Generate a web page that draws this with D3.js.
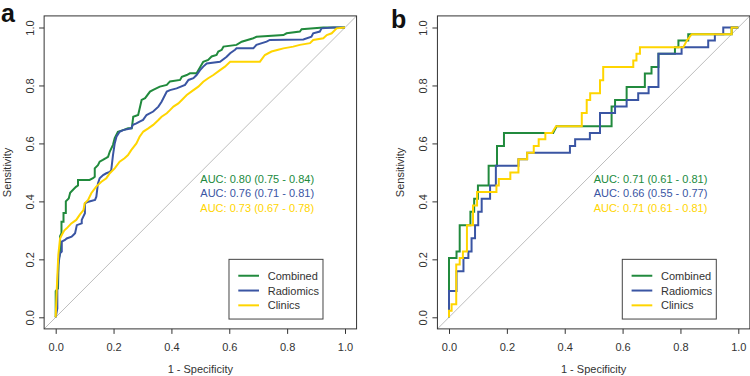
<!DOCTYPE html>
<html><head><meta charset="utf-8">
<script src="https://cdn.jsdelivr.net/npm/d3@7"></script>
<style>body{margin:0;background:#fff}svg{display:block}text{font-family:"Liberation Sans",Arial,sans-serif}</style>
</head><body>
<svg id="c" width="750" height="376"></svg>
<script>
// ---- data: [1 - specificity, sensitivity] vertices of each ROC curve ----
const aCombined = [[0,0],[0,0.09],[0.008,0.1],[0.01,0.2],[0.015,0.22],[0.015,0.28],[0.02,0.29],[0.02,0.33],[0.027,0.33],[0.027,0.36],[0.035,0.36],[0.035,0.40],[0.045,0.41],[0.05,0.43],[0.06,0.44],[0.07,0.45],[0.077,0.455],[0.077,0.474],[0.117,0.474],[0.129,0.48],[0.135,0.485],[0.135,0.514],[0.146,0.525],[0.152,0.537],[0.163,0.543],[0.175,0.55],[0.181,0.554],[0.187,0.572],[0.198,0.595],[0.204,0.618],[0.215,0.64],[0.233,0.646],[0.25,0.652],[0.263,0.652],[0.268,0.692],[0.285,0.698],[0.297,0.75],[0.309,0.756],[0.326,0.779],[0.337,0.785],[0.36,0.796],[0.384,0.802],[0.395,0.814],[0.43,0.819],[0.436,0.83],[0.453,0.836],[0.464,0.842],[0.487,0.842],[0.51,0.882],[0.527,0.888],[0.539,0.9],[0.556,0.905],[0.562,0.917],[0.574,0.923],[0.58,0.934],[0.625,0.94],[0.643,0.951],[0.683,0.963],[0.694,0.968],[0.787,0.974],[0.798,0.98],[0.844,0.986],[0.85,0.994],[0.925,1],[1,1]];
const aRadiomics = [[0,0],[0.0056,0.031],[0.0056,0.094],[0.009,0.18],[0.015,0.221],[0.021,0.227],[0.021,0.261],[0.032,0.267],[0.038,0.272],[0.055,0.278],[0.061,0.284],[0.067,0.29],[0.073,0.318],[0.09,0.324],[0.09,0.336],[0.101,0.359],[0.101,0.393],[0.113,0.399],[0.136,0.405],[0.1405,0.416],[0.146,0.462],[0.152,0.48],[0.164,0.491],[0.175,0.497],[0.187,0.502],[0.192,0.508],[0.198,0.56],[0.204,0.6],[0.21,0.623],[0.221,0.64],[0.233,0.646],[0.261,0.652],[0.267,0.664],[0.279,0.669],[0.29,0.675],[0.302,0.681],[0.314,0.698],[0.337,0.71],[0.355,0.727],[0.366,0.744],[0.384,0.779],[0.395,0.784],[0.418,0.79],[0.447,0.802],[0.459,0.819],[0.476,0.825],[0.487,0.836],[0.499,0.853],[0.51,0.865],[0.522,0.876],[0.568,0.882],[0.591,0.899],[0.603,0.911],[0.62,0.923],[0.625,0.928],[0.683,0.928],[0.694,0.94],[0.729,0.951],[0.74,0.957],[0.856,0.959],[0.884,0.968],[0.89,0.98],[0.913,0.986],[0.919,0.997],[0.96,1],[1,1]];
const aClinics = [[0,0],[0.0035,0.094],[0.009,0.215],[0.015,0.272],[0.021,0.284],[0.027,0.295],[0.031,0.301],[0.038,0.307],[0.054,0.324],[0.071,0.336],[0.084,0.355],[0.096,0.37],[0.1,0.393],[0.112,0.405],[0.123,0.428],[0.14,0.451],[0.158,0.468],[0.175,0.48],[0.187,0.497],[0.204,0.514],[0.221,0.537],[0.238,0.549],[0.25,0.56],[0.261,0.577],[0.279,0.6],[0.29,0.623],[0.303,0.641],[0.32,0.652],[0.337,0.664],[0.355,0.681],[0.366,0.692],[0.384,0.704],[0.395,0.715],[0.407,0.727],[0.424,0.738],[0.436,0.75],[0.453,0.767],[0.476,0.784],[0.493,0.796],[0.51,0.813],[0.527,0.825],[0.545,0.836],[0.568,0.853],[0.585,0.865],[0.603,0.882],[0.706,0.882],[0.723,0.905],[0.746,0.917],[0.769,0.923],[0.787,0.928],[0.821,0.934],[0.844,0.94],[0.879,0.946],[0.89,0.957],[0.925,0.963],[0.937,0.974],[0.954,0.98],[0.971,0.997],[1,1]];

const bCombined = [[0,0],[0,0.205],[0.026,0.205],[0.026,0.227],[0.037,0.227],[0.037,0.318],[0.074,0.318],[0.074,0.364],[0.087,0.364],[0.087,0.409],[0.1,0.409],[0.1,0.455],[0.137,0.455],[0.137,0.523],[0.166,0.523],[0.166,0.591],[0.19,0.591],[0.19,0.636],[0.36,0.636],[0.372,0.659],[0.562,0.659],[0.562,0.727],[0.574,0.727],[0.574,0.75],[0.614,0.75],[0.614,0.795],[0.677,0.795],[0.677,0.841],[0.7,0.841],[0.7,0.864],[0.724,0.864],[0.724,0.909],[0.781,0.909],[0.781,0.932],[0.793,0.932],[0.793,0.955],[0.827,0.955],[0.827,0.977],[0.977,0.977],[0.977,1],[1,1]];
const bRadiomics = [[0,0],[0,0.091],[0.026,0.091],[0.026,0.159],[0.05,0.159],[0.05,0.205],[0.067,0.205],[0.067,0.227],[0.078,0.227],[0.078,0.273],[0.09,0.273],[0.09,0.318],[0.101,0.318],[0.101,0.364],[0.113,0.364],[0.113,0.409],[0.142,0.409],[0.142,0.455],[0.162,0.455],[0.162,0.523],[0.24,0.523],[0.24,0.545],[0.27,0.545],[0.27,0.568],[0.418,0.568],[0.418,0.591],[0.436,0.591],[0.436,0.614],[0.487,0.614],[0.487,0.636],[0.522,0.636],[0.522,0.705],[0.574,0.705],[0.574,0.727],[0.614,0.727],[0.614,0.75],[0.654,0.75],[0.654,0.773],[0.69,0.773],[0.69,0.795],[0.724,0.795],[0.724,0.909],[0.804,0.909],[0.804,0.932],[0.896,0.932],[0.896,0.955],[0.919,0.955],[0.919,0.977],[0.948,0.977],[0.948,1],[1,1]];
const bClinics = [[0,0],[0,0.023],[0.009,0.023],[0.009,0.045],[0.025,0.045],[0.025,0.182],[0.037,0.182],[0.037,0.205],[0.048,0.205],[0.048,0.227],[0.062,0.227],[0.062,0.318],[0.083,0.318],[0.083,0.386],[0.097,0.386],[0.097,0.432],[0.164,0.432],[0.164,0.455],[0.172,0.455],[0.172,0.477],[0.212,0.477],[0.212,0.5],[0.24,0.5],[0.24,0.545],[0.27,0.545],[0.27,0.568],[0.293,0.568],[0.293,0.591],[0.31,0.591],[0.31,0.614],[0.333,0.614],[0.333,0.636],[0.356,0.636],[0.37,0.659],[0.459,0.659],[0.459,0.705],[0.476,0.705],[0.476,0.75],[0.488,0.75],[0.488,0.773],[0.522,0.773],[0.522,0.818],[0.533,0.818],[0.533,0.864],[0.637,0.864],[0.637,0.886],[0.648,0.886],[0.648,0.909],[0.66,0.909],[0.66,0.932],[0.81,0.932],[0.822,0.955],[0.839,0.977],[0.977,0.977],[0.977,1],[1,1]];

const seriesNames = ["Combined", "Radiomics", "Clinics"];
const aucA = ["AUC: 0.80 (0.75 - 0.84)", "AUC: 0.76 (0.71 - 0.81)", "AUC: 0.73 (0.67 - 0.78)"];
const aucB = ["AUC: 0.71 (0.61 - 0.81)", "AUC: 0.66 (0.55 - 0.77)", "AUC: 0.71 (0.61 - 0.81)"];
const tickValues = [0, 0.2, 0.4, 0.6, 0.8, 1.0];
const panelLabels = ["a", "b"];
const xTitle = "1 - Specificity";
const yTitle = "Sensitivity";

const colors = ["#218a3d", "#3a55a3", "#ffd500"];
const svg = d3.select("#c");

const panels = [
  {label: panelLabels[0], curves: [aCombined, aRadiomics, aClinics], auc: aucA, x0: 55.7, labelPos: [1, 22]},
  {label: panelLabels[1], curves: [bCombined, bRadiomics, bClinics], auc: aucB, x0: 449, labelPos: [391, 28]}
];
const W = 289.3;

panels.forEach((p, pi) => {
  const x = d3.scaleLinear().domain([0, 1]).range([p.x0, p.x0 + W]);
  const y = d3.scaleLinear().domain([0, 1]).range([317.3, 27.5]);
  const g = svg.append("g");
  const xl = x(-0.04), xr = x(1.04), yt = y(1.04), yb = y(-0.04);
  const clipId = "clip" + pi;
  svg.append("clipPath").attr("id", clipId).append("rect")
    .attr("x", xl).attr("y", yt).attr("width", xr - xl).attr("height", yb - yt);

  // diagonal reference
  g.append("line").attr("clip-path", `url(#${clipId})`)
    .attr("x1", x(-0.04)).attr("y1", y(-0.04)).attr("x2", x(1.04)).attr("y2", y(1.04))
    .attr("stroke", "#bdbdbd").attr("stroke-width", 1);

  // curves
  const line = d3.line().x(d => x(d[0])).y(d => y(d[1]));
  p.curves.forEach((c, i) => {
    g.append("path").datum(c).attr("d", line)
      .attr("fill", "none").attr("stroke", colors[i]).attr("stroke-width", 2)
      .attr("stroke-linejoin", "miter").attr("clip-path", `url(#${clipId})`);
  });

  // box
  g.append("rect").attr("x", xl).attr("y", yt).attr("width", xr - xl).attr("height", yb - yt)
    .attr("fill", "none").attr("stroke", "#333").attr("stroke-width", 1);

  // axes
  const xa = g.append("g").attr("transform", `translate(0,${yb})`)
    .call(d3.axisBottom(x).tickValues(tickValues).tickFormat(d3.format(".1f")).tickSize(5).tickSizeOuter(0).tickPadding(9));
  xa.select(".domain").remove();
  xa.selectAll("line").attr("stroke", "#333");
  xa.selectAll("text").attr("font-size", 11).attr("fill", "#333").attr("font-family", "Liberation Sans, Arial, sans-serif");

  const ya = g.append("g").attr("transform", `translate(${xl},0)`)
    .call(d3.axisLeft(y).tickValues(tickValues).tickFormat(d3.format(".1f")).tickSize(5).tickSizeOuter(0));
  ya.select(".domain").remove();
  ya.selectAll("line").attr("stroke", "#333");
  ya.selectAll("text").attr("font-size", 11).attr("fill", "#333").attr("font-family", "Liberation Sans, Arial, sans-serif")
    .attr("text-anchor", "middle").attr("x", 0).attr("dy", null)
    .attr("transform", d => `translate(${-14.5},${0}) rotate(-90)`).attr("y", 4);

  // titles
  g.append("text").attr("x", (x(0) + x(1)) / 2).attr("y", 373).attr("text-anchor", "middle")
    .attr("font-size", 11).attr("fill", "#333").text(xTitle);
  g.append("text").attr("transform", `translate(${xl - 33},${(y(0) + y(1)) / 2}) rotate(-90)`)
    .attr("text-anchor", "middle").attr("font-size", 11).attr("fill", "#333").text(yTitle);

  // panel label
  g.append("text").attr("x", p.labelPos[0]).attr("y", p.labelPos[1])
    .attr("font-size", 25).attr("font-weight", "bold").attr("fill", "#111").text(p.label);

  // AUC text
  p.auc.forEach((t, i) => {
    g.append("text").attr("x", x(0.5)).attr("y", y(0.463) + i * 14.2)
      .attr("font-size", 11).attr("fill", colors[i]).attr("text-anchor", "start").text(t);
  });

  // legend
  const lx = x(0.599), ly = y(0.2);
  const lg = g.append("g");
  lg.append("rect").attr("x", lx).attr("y", ly).attr("width", 94).attr("height", 59.7)
    .attr("fill", "#fff").attr("stroke", "#444").attr("stroke-width", 1);
  seriesNames.forEach((n, i) => {
    const yy = ly + 16.4 + i * 14.8;
    lg.append("line").attr("x1", lx + 9.3).attr("x2", lx + 30).attr("y1", yy).attr("y2", yy)
      .attr("stroke", colors[i]).attr("stroke-width", 2);
    lg.append("text").attr("x", lx + 38.7).attr("y", yy + 4).attr("font-size", 11).attr("fill", "#333").text(n);
  });
});
</script>
</body></html>
